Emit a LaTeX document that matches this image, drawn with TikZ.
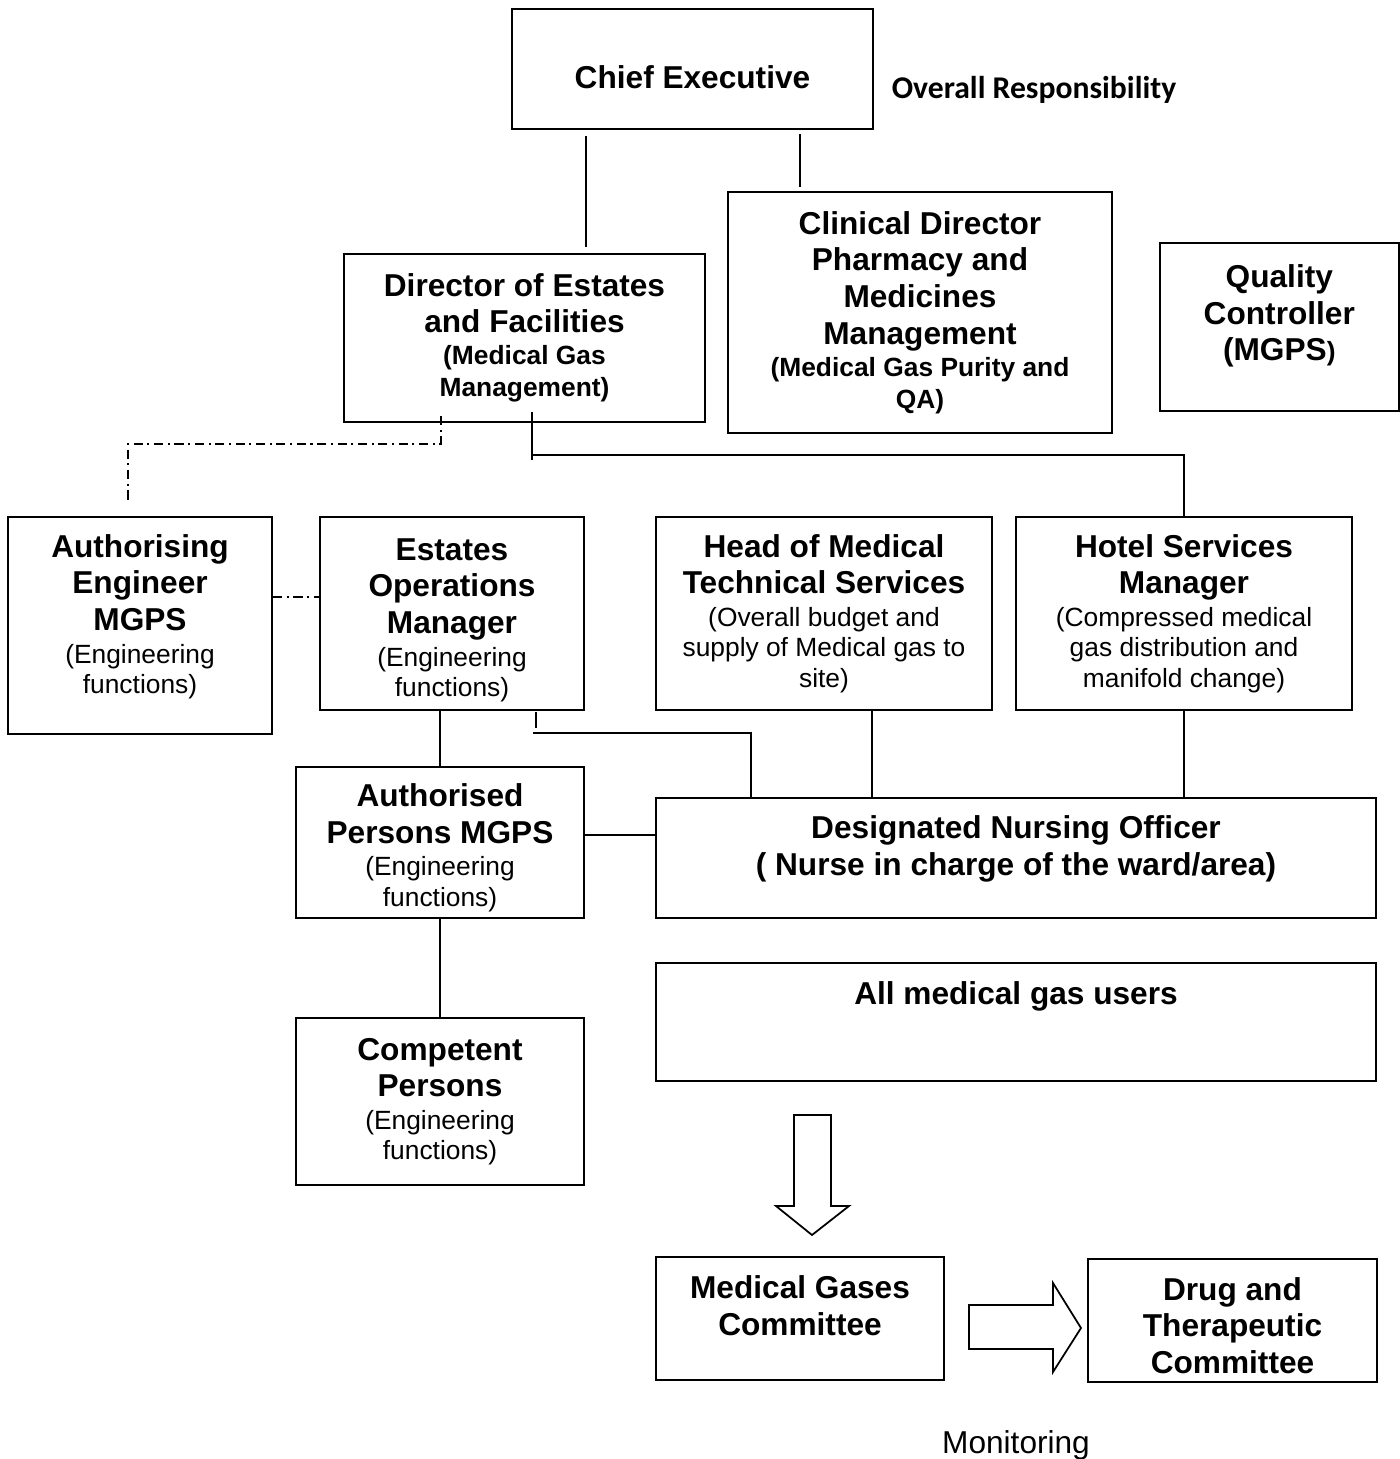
\documentclass[tikz,border=0pt]{standalone}
\usepackage{fontspec}
\setmainfont{Liberation Sans}
\newfontfamily\calibrifont{Carlito}
\newcommand{\titlefont}{\fontsize{9}{10.4}\selectfont\bfseries}
\newcommand{\notefont}{\fontsize{7.5}{8.6}\selectfont\vspace{0.7pt}}
\newcommand{\notebold}{\fontsize{7.5}{9.1}\selectfont\bfseries}
\newcommand{\lift}[1]{\rule[-#1]{0pt}{#1}}
\newcommand{\drop}[1]{\rule{0pt}{#1}}

\begin{document}
\begin{tikzpicture}[x=0.1mm,y=-0.1mm,
    link/.style={line width=0.45pt},
    chainline/.style={line width=0.45pt,dash pattern=on 2.6pt off 1.3pt on 0.6pt off 1.3pt},
    bigarrow/.style={line width=0.5pt,fill=white}]
          \useasboundingbox (0,0) rectangle (1400,1459);
          \begin{scope}[every node/.style={draw,rectangle,line width=0.6pt,inner sep=0pt,align=flush center}]
            \node (ce) [minimum width=3.61cm,minimum height=1.2cm,text width=3.4cm] at (692.5,69) {\titlefont\drop{11pt}Chief Executive};
            \node (dir) [minimum width=3.61cm,minimum height=1.68cm,text width=3.4cm] at (524.5,338) {{\titlefont Director of Estates\\and Facilities\par}{\notebold (Medical Gas\\Management)\par}};
            \node (clin) [minimum width=3.84cm,minimum height=2.41cm,text width=3.7cm] at (920,312.5) {{\titlefont Clinical Director\\Pharmacy and\\Medicines\\Management\par}{\notebold (Medical Gas Purity and\\QA)\par}};
            \node (qc) [minimum width=2.386cm,minimum height=1.68cm,text width=2.2cm] at (1279.3,327) {{\titlefont Quality\\Controller\\(MGPS{\notebold)}\lift{8.2pt}\par}};
            \node (ae) [minimum width=2.64cm,minimum height=2.17cm,text width=2.5cm] at (140,625.5) {{\titlefont Authorising\\Engineer\\MGPS\par}{\notefont (Engineering\\functions)\lift{6.6pt}\par}};
            \node (eom) [minimum width=2.64cm,minimum height=1.93cm,text width=2.5cm] at (452,613.5) {{\titlefont\drop{10pt}Estates\\Operations\\Manager\par}{\notefont (Engineering\\functions)\par}};
            \node (hmts) [minimum width=3.36cm,minimum height=1.93cm,text width=3.2cm] at (824,613.5) {{\titlefont Head of Medical\\Technical Services\par}{\notefont (Overall budget and\\supply of Medical gas to\\site)\par}};
            \node (hsm) [minimum width=3.36cm,minimum height=1.93cm,text width=3.2cm] at (1184,613.5) {{\titlefont Hotel Services\\Manager\par}{\notefont (Compressed medical\\gas distribution and\\manifold change)\par}};
            \node (ap) [minimum width=2.88cm,minimum height=1.51cm,text width=2.7cm] at (440,842.5) {{\titlefont\drop{9.4pt}Authorised\\Persons MGPS\par}{\notefont (Engineering\\functions)\par}};
            \node (dno) [minimum width=7.2cm,minimum height=1.2cm,text width=7cm] at (1016,858) {{\titlefont Designated Nursing Officer\\( Nurse in charge of the ward/area)\lift{7.2pt}\par}};
            \node (amu) [minimum width=7.2cm,minimum height=1.18cm,text width=7cm] at (1016,1022) {{\titlefont All medical gas users\lift{16.3pt}\par}};
            \node (cp) [minimum width=2.88cm,minimum height=1.67cm,text width=2.7cm] at (440,1101.5) {{\titlefont Competent\\Persons\par}{\notefont (Engineering\\functions)\par}};
            \node (mgc) [minimum width=2.88cm,minimum height=1.23cm,text width=2.7cm] at (800,1318.5) {{\titlefont Medical Gases\\Committee\lift{7.4pt}\par}};
            \node (dtc) [minimum width=2.89cm,minimum height=1.23cm,text width=2.7cm] at (1232.5,1320.5) {{\titlefont\drop{9.4pt}Drug and\\Therapeutic\\Committee\par}};
          \end{scope}
          \node (resp) at (1034,90) {\calibrifont\fontsize{9}{10}\selectfont\bfseries Overall Responsibility};
          \node (mon) at (1016,1445) {\fontsize{9}{10}\selectfont Monitoring};
          \begin{scope}[link]
            \path (ce.south -| 586,0) edge [shorten <=1.7pt,shorten >=1.7pt] (dir.north -| 586,0);
            \path (ce.south -| 800,0) edge [shorten <=1.2pt,shorten >=1pt] (clin.north -| 800,0);
            \coordinate (dirtap) at (532,455);
            \draw (dir.south -| dirtap) ++(0,-11) -- ++(0,48);
            \draw (dirtap) -- (dirtap -| hsm.north) -- (hsm.north);
            \path (eom.south -| ap.north) edge (ap.north);
            \draw (eom.south -| 536,0) ++(0,1) -- ++(0,16);
            \coordinate (eomend) at (533,733);
            \coordinate (dnotap) at (751,733);
            \draw (eomend) -- (dnotap) -- (dnotap |- dno.north);
            \path (hmts.south -| 872,0) edge (dno.north -| 872,0);
            \path (hsm.south) edge (dno.north -| hsm.south);
            \path (ap.east |- 0,835) edge (dno.west |- 0,835);
            \path (ap.south) edge (cp.north);
          \end{scope}
          \begin{scope}[chainline]
            \coordinate (aetap) at (441,444);
            \coordinate (aebend) at (128,444);
            \draw[shorten >=4pt] (dir.south -| aetap) ++(0,-7) -- (aetap) -- (aebend) -- (aebend |- ae.north);
            \path (ae.east |- 0,597) edge (eom.west |- 0,597);
          \end{scope}
          \coordinate (downtip) at (812,1235);
          \draw[bigarrow] (downtip) -- ++(-36,-29) -- ++(18,0) -- ++(0,-91) -- ++(37,0) -- ++(0,91) -- ++(18,0) -- cycle;
          \coordinate (righttip) at (1081,1328);
          \draw[bigarrow] (righttip) -- ++(-28,-45) -- ++(0,22) -- ++(-84,0) -- ++(0,44) -- ++(84,0) -- ++(0,23) -- cycle;
        \end{tikzpicture}
\end{document}
